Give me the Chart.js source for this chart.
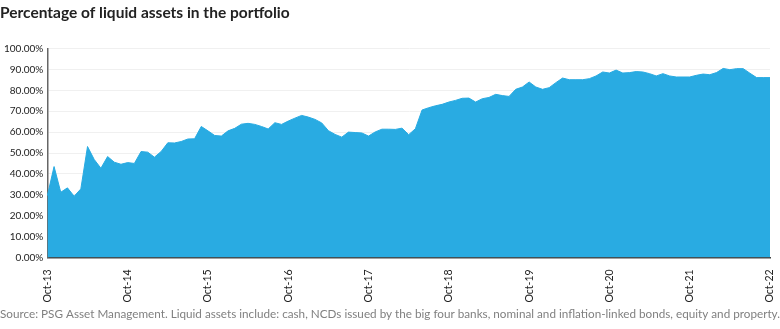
<!DOCTYPE html>
<html>
<head>
<meta charset="utf-8">
<title>Liquid assets</title>
<script src="https://cdn.jsdelivr.net/npm/chart.js@4.4.1/dist/chart.umd.min.js"></script>
<style>
  html, body { margin: 0; padding: 0; background: #fff; }
  #wrap { width: 780px; height: 329px; position: relative; }
</style>
</head>
<body>
<div id="wrap"><canvas id="liquidChart"></canvas></div>
<script>
"use strict";

// monthly categories, Oct-13 .. Oct-22
var monthNames = ['Jan', 'Feb', 'Mar', 'Apr', 'May', 'Jun', 'Jul', 'Aug', 'Sep', 'Oct', 'Nov', 'Dec'];
var months = [];
for (var m = 9; m <= 9 + 108; m++) {
    var yr = 13 + Math.floor(m / 12);
    months.push(monthNames[m % 12] + '-' + yr);
}

// liquid assets as % of the portfolio
var liquidPct = [
    29.6, 43.5, 31.2, 33.3, 29.3, 32.8, 53.1, 46.9, 42.7, 48.3, 45.6, 44.6,
    45.4, 45.0, 50.7, 50.4, 48.0, 50.7, 54.9, 54.8, 55.5, 56.7, 56.8, 62.7,
    60.6, 58.4, 58.1, 60.6, 61.8, 63.8, 64.2, 63.7, 62.7, 61.5, 64.5, 63.7,
    65.3, 66.7, 68.0, 67.2, 66.1, 64.4, 60.7, 58.9, 57.6, 60.0, 59.8, 59.6,
    58.1, 60.1, 61.4, 61.4, 61.3, 61.9, 58.8, 61.6, 70.6, 71.7, 72.6, 73.3,
    74.4, 75.2, 76.2, 76.3, 74.4, 76.0, 76.6, 78.1, 77.5, 77.1, 80.5, 81.6,
    84.0, 81.6, 80.5, 81.3, 83.7, 85.9, 85.1, 85.1, 85.1, 85.6, 86.9, 88.8,
    88.3, 89.7, 88.3, 88.5, 89.0, 88.8, 88.0, 86.9, 88.0, 86.9, 86.4, 86.4,
    86.4, 87.2, 87.8, 87.5, 88.5, 90.5, 89.9, 90.4, 90.4, 88.2, 86.1, 86.1,
    86.1
];

// only the October months get a label on the x axis
var tickLabels = ['Oct-13', 'Oct-14', 'Oct-15', 'Oct-16', 'Oct-17', 'Oct-18', 'Oct-19', 'Oct-20', 'Oct-21', 'Oct-22'];

var fillBlue = 'rgb(41, 171, 226)';

var ctx = document.getElementById('liquidChart').getContext('2d');
var myChart = new Chart(ctx, {
    type: 'line',
    data: {
        labels: months,
        datasets: [{
            label: 'Liquid assets',
            data: liquidPct,
            backgroundColor: fillBlue,
            borderColor: fillBlue,
            borderWidth: 1,
            fill: 'origin',
            pointRadius: 0,
            tension: 0
        }]
    },
    options: {
        responsive: true,
        maintainAspectRatio: false,
        animation: false,
        layout: {
            padding: { left: 0, right: 0, top: 0, bottom: 0 }
        },
        plugins: {
            legend: { display: false },
            tooltip: { enabled: false },
            title: {
                display: true,
                text: 'Percentage of liquid assets in the portfolio',
                align: 'start',
                color: '#222',
                font: { family: 'Lato', size: 15.5, weight: 'bold' },
                padding: { top: 4, bottom: 26 }
            },
            subtitle: {
                display: true,
                position: 'bottom',
                align: 'start',
                text: 'Source: PSG Asset Management. Liquid assets include: cash, NCDs issued by the big four banks, nominal and inflation-linked bonds, equity and property.',
                color: '#808080',
                font: { family: 'Lato', size: 12 },
                padding: { top: 0, bottom: 8 }
            }
        },
        scales: {
            x: {
                grid: { display: false },
                border: { display: true, color: '#444', width: 1.5 },
                // let the last rotated label sit close to the right edge
                afterFit: function (scale) { scale.paddingRight = 10; },
                ticks: {
                    autoSkip: false,
                    maxRotation: 90,
                    minRotation: 90,
                    color: '#222',
                    font: { family: 'Lato', size: 10.5 },
                    padding: 4,
                    callback: function (val, i) {
                        var lab = this.getLabelForValue(val);
                        return tickLabels.indexOf(lab) >= 0 ? lab : null;
                    }
                }
            },
            y: {
                min: 0,
                max: 100,
                grid: { color: '#f0f0f0', drawTicks: false },
                border: { display: true, color: '#666', width: 1.5 },
                ticks: {
                    stepSize: 10,
                    color: '#222',
                    padding: 4,
                    font: { family: 'Lato', size: 10 },
                    callback: function (v) { return v.toFixed(2) + '%'; }
                }
            }
        }
    }
});
</script>
</body>
</html>
